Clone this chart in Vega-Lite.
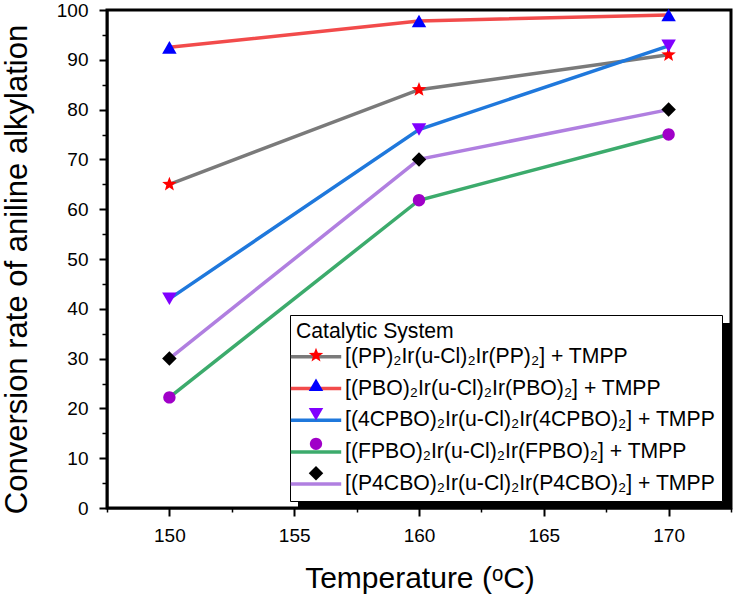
{
  "$schema": "https://vega.github.io/schema/vega-lite/v6.json",
  "width": 624,
  "height": 498,
  "autosize": {"type": "none"},
  "padding": {"left": 107, "top": 10, "right": 5, "bottom": 90},
  "background": "white",
  "config": {
    "font": "Liberation Sans",
    "view": {"stroke": "black", "strokeWidth": 3},
    "axis": {
      "grid": false,
      "domainColor": "black",
      "domainWidth": 2,
      "tickColor": "black",
      "labelColor": "black",
      "titleColor": "black",
      "labelFont": "Liberation Sans",
      "titleFont": "Liberation Sans",
      "labelFontSize": 19,
      "titleFontWeight": "normal",
      "labelOverlap": false,
      "labelFlush": false
    }
  },
  "data": {
    "values": [
      {"series": "[(PP)₂Ir(u-Cl)₂Ir(PP)₂] + TMPP", "temp": 150, "conv": 65},
      {"series": "[(PP)₂Ir(u-Cl)₂Ir(PP)₂] + TMPP", "temp": 160, "conv": 84},
      {"series": "[(PP)₂Ir(u-Cl)₂Ir(PP)₂] + TMPP", "temp": 170, "conv": 91},
      {"series": "[(PBO)₂Ir(u-Cl)₂Ir(PBO)₂] + TMPP", "temp": 150, "conv": 92.5},
      {"series": "[(PBO)₂Ir(u-Cl)₂Ir(PBO)₂] + TMPP", "temp": 160, "conv": 97.8},
      {"series": "[(PBO)₂Ir(u-Cl)₂Ir(PBO)₂] + TMPP", "temp": 170, "conv": 99},
      {"series": "[(4CPBO)₂Ir(u-Cl)₂Ir(4CPBO)₂] + TMPP", "temp": 150, "conv": 42},
      {"series": "[(4CPBO)₂Ir(u-Cl)₂Ir(4CPBO)₂] + TMPP", "temp": 160, "conv": 76},
      {"series": "[(4CPBO)₂Ir(u-Cl)₂Ir(4CPBO)₂] + TMPP", "temp": 170, "conv": 92.8},
      {"series": "[(FPBO)₂Ir(u-Cl)₂Ir(FPBO)₂] + TMPP", "temp": 150, "conv": 22.2},
      {"series": "[(FPBO)₂Ir(u-Cl)₂Ir(FPBO)₂] + TMPP", "temp": 160, "conv": 61.8},
      {"series": "[(FPBO)₂Ir(u-Cl)₂Ir(FPBO)₂] + TMPP", "temp": 170, "conv": 75},
      {"series": "[(P4CBO)₂Ir(u-Cl)₂Ir(P4CBO)₂] + TMPP", "temp": 150, "conv": 30},
      {"series": "[(P4CBO)₂Ir(u-Cl)₂Ir(P4CBO)₂] + TMPP", "temp": 160, "conv": 70},
      {"series": "[(P4CBO)₂Ir(u-Cl)₂Ir(P4CBO)₂] + TMPP", "temp": 170, "conv": 80}
    ]
  },
  "encoding": {
    "x": {
      "field": "temp",
      "type": "quantitative",
      "scale": {"domain": [147.5, 172.5], "nice": false, "zero": false},
      "axis": {
        "values": [147.5, 150, 152.5, 155, 157.5, 160, 162.5, 165, 167.5, 170, 172.5],
        "format": "d",
        "labelExpr": "datum.value % 5 === 0 ? datum.label : ''",
        "tickSize": {"condition": {"test": "datum.value % 5 === 0", "value": 8}, "value": 4},
        "tickWidth": {"condition": {"test": "datum.value % 5 === 0", "value": 2}, "value": 1.5},
        "labelPadding": 10,
        "title": "Temperature (ᵒC)",
        "titleFontSize": 30,
        "titleX": 312.5,
        "titleY": 79,
        "titleBaseline": "alphabetic",
        "titleAlign": "center"
      }
    },
    "y": {
      "field": "conv",
      "type": "quantitative",
      "scale": {"domain": [0, 100], "nice": false},
      "axis": {
        "values": [0, 5, 10, 15, 20, 25, 30, 35, 40, 45, 50, 55, 60, 65, 70, 75, 80, 85, 90, 95, 100],
        "format": "d",
        "labelExpr": "datum.value % 10 === 0 ? datum.label : ''",
        "tickSize": {"condition": {"test": "datum.value % 10 === 0", "value": 8}, "value": 5},
        "tickWidth": {"condition": {"test": "datum.value % 10 === 0", "value": 2}, "value": 1.5},
        "labelPadding": 11,
        "title": "Conversion rate of aniline alkylation",
        "titleFontSize": 31,
        "titleX": -81,
        "titleY": 259,
        "titleAngle": -90,
        "titleBaseline": "alphabetic",
        "titleAlign": "center"
      }
    }
  },
  "layer": [
    {
      "mark": {"type": "line", "opacity": 0, "strokeWidth": 3.5},
      "encoding": {
        "strokeDash": {
          "field": "series",
          "type": "nominal",
          "legend": {
            "orient": "none",
            "legendX": 191,
            "legendY": 313,
            "title": "Catalytic System",
            "titleFontSize": 21.2,
            "titleFontWeight": "normal",
            "titleOpacity": 0,
            "titlePadding": -5.5,
            "titleLimit": 600,
            "labelFontSize": 21.2,
            "labelOpacity": 0,
            "labelLimit": 600,
            "labelOffset": 9,
            "symbolType": "M-1.4,0L1.4,0",
            "symbolSize": 1296,
            "symbolStrokeWidth": 3.5,
            "symbolOffset": 0,
            "symbolOpacity": 0,
            "padding": 6,
            "rowPadding": 0.8,
            "fillColor": "black"
          }
        }
      }
    },
    {
      "mark": {"type": "line", "strokeWidth": 3.5},
      "encoding": {
        "stroke": {
          "field": "series",
          "type": "nominal",
          "sort": [
            "[(PP)₂Ir(u-Cl)₂Ir(PP)₂] + TMPP",
            "[(PBO)₂Ir(u-Cl)₂Ir(PBO)₂] + TMPP",
            "[(4CPBO)₂Ir(u-Cl)₂Ir(4CPBO)₂] + TMPP",
            "[(FPBO)₂Ir(u-Cl)₂Ir(FPBO)₂] + TMPP",
            "[(P4CBO)₂Ir(u-Cl)₂Ir(P4CBO)₂] + TMPP"
          ],
          "scale": {"range": ["#7a7a7a", "#f24b4b", "#1f78dc", "#3cab6c", "#b07fe0"]},
          "legend": {
            "orient": "none",
            "legendX": 183,
            "legendY": 305,
            "title": "Catalytic System",
            "titleFontSize": 21.2,
            "titleFontWeight": "normal",
            "titleColor": "black",
            "titlePadding": -5.5,
            "titleLimit": 600,
            "labelFontSize": 21.2,
            "labelColor": "black",
            "labelLimit": 600,
            "labelOffset": 9,
            "symbolType": "M-1.4,0L1.4,0",
            "symbolSize": 1296,
            "symbolStrokeWidth": 3.5,
            "symbolOffset": 0,
            "padding": 6,
            "rowPadding": 0.8,
            "fillColor": "white",
            "strokeColor": "black"
          }
        }
      }
    },
    {
      "mark": {"type": "point", "filled": true, "size": 210, "opacity": 1, "strokeWidth": 0},
      "encoding": {
        "fill": {
          "field": "series",
          "type": "nominal",
          "scale": {
            "domain": [
              "[(PP)₂Ir(u-Cl)₂Ir(PP)₂] + TMPP",
              "[(PBO)₂Ir(u-Cl)₂Ir(PBO)₂] + TMPP",
              "[(4CPBO)₂Ir(u-Cl)₂Ir(4CPBO)₂] + TMPP",
              "[(FPBO)₂Ir(u-Cl)₂Ir(FPBO)₂] + TMPP",
              "[(P4CBO)₂Ir(u-Cl)₂Ir(P4CBO)₂] + TMPP"
            ],
            "range": ["#ff0000", "#0000ff", "#8000ff", "#a000c8", "#000000"]
          },
          "legend": {
            "orient": "none",
            "legendX": 183,
            "legendY": 305,
            "title": "Catalytic System",
            "titleFontSize": 21.2,
            "titleFontWeight": "normal",
            "titleOpacity": 0,
            "titlePadding": 2.5,
            "titleLimit": 600,
            "labelFontSize": 21.2,
            "labelOpacity": 0,
            "labelLimit": 600,
            "symbolSize": 210,
            "symbolStrokeWidth": 0,
            "symbolOffset": 9.4,
            "padding": 6,
            "rowPadding": 7.5
          }
        },
        "shape": {
          "field": "series",
          "type": "nominal",
          "scale": {
            "domain": [
              "[(PP)₂Ir(u-Cl)₂Ir(PP)₂] + TMPP",
              "[(PBO)₂Ir(u-Cl)₂Ir(PBO)₂] + TMPP",
              "[(4CPBO)₂Ir(u-Cl)₂Ir(4CPBO)₂] + TMPP",
              "[(FPBO)₂Ir(u-Cl)₂Ir(FPBO)₂] + TMPP",
              "[(P4CBO)₂Ir(u-Cl)₂Ir(P4CBO)₂] + TMPP"
            ],
            "range": [
              "M0,-1.05L0.2645,-0.3641L0.9986,-0.3245L0.428,0.139L0.6172,0.8495L0,0.45L-0.6172,0.8495L-0.428,0.139L-0.9986,-0.3245L-0.2645,-0.3641Z",
              "triangle-up",
              "triangle-down",
              "M0.85,0A0.85,0.85,0,1,1,-0.85,0A0.85,0.85,0,1,1,0.85,0Z",
              "diamond"
            ]
          },
          "legend": {
            "orient": "none",
            "legendX": 183,
            "legendY": 305,
            "title": "Catalytic System",
            "titleFontSize": 21.2,
            "titleFontWeight": "normal",
            "titleOpacity": 0,
            "titlePadding": 2.5,
            "titleLimit": 600,
            "labelFontSize": 21.2,
            "labelOpacity": 0,
            "labelLimit": 600,
            "symbolSize": 210,
            "symbolStrokeWidth": 0,
            "symbolOffset": 9.4,
            "padding": 6,
            "rowPadding": 7.5
          }
        }
      }
    }
  ]
}
